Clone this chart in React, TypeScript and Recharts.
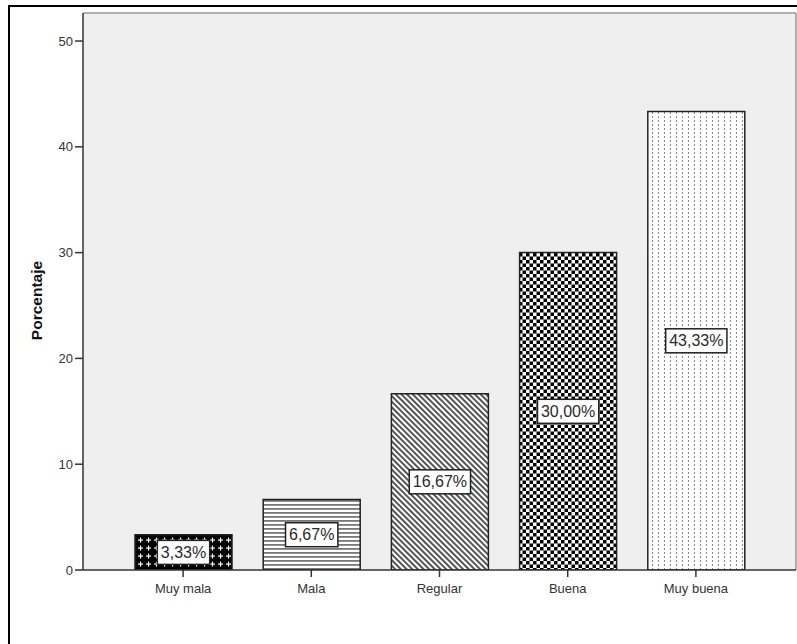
import React from 'react';
import { BarChart, Bar, XAxis, YAxis, CartesianGrid, Cell, LabelList } from 'recharts';

const categories = ['Muy mala', 'Mala', 'Regular', 'Buena', 'Muy buena'];
const percentages = [3.33, 6.67, 16.67, 30.0, 43.33];
const yTicks = [0, 10, 20, 30, 40, 50];
const yAxisTitle = 'Porcentaje';

const patternIds = ['patMuyMala', 'patMala', 'patRegular', 'patBuena', 'patMuyBuena'];

const data = categories.map((name, i) => ({ name, value: percentages[i] }));

const FONT = '"Liberation Sans", Arial, Helvetica, sans-serif';

const charW: Record<string, number> = { ',': 0.278, '%': 0.889, '.': 0.278 };
const textWidth = (s: string, fs: number) =>
  s.split('').reduce((acc, c) => acc + (charW[c] ?? 0.556), 0) * fs;

const fmt = (v: number) => v.toFixed(2).replace('.', ',') + '%';

const BarLabel = (props: any) => {
  const { x, y, width, height, value } = props;
  const cx = Number(x) + Number(width) / 2;
  const cy = Number(y) + Number(height) / 2;
  const txt = fmt(Number(value));
  const fs = 16;
  const w = textWidth(txt, fs) + 7;
  const h = 24;
  return (
    <g>
      <rect x={cx - w / 2} y={cy - h / 2} width={w} height={h} fill="#ffffff" stroke="#222" strokeWidth={1.5} />
      <text x={cx} y={cy} textAnchor="middle" dominantBaseline="central" fontSize={fs} fontFamily={FONT} fill="#2a2a2a">
        {txt}
      </text>
    </g>
  );
};

const YTitle = (props: any) => {
  const vb = props.viewBox || {};
  const cx = Number(vb.x) + 28;
  const cy = Number(vb.y) + Number(vb.height) / 2 + 9;
  return (
    <text
      x={cx}
      y={cy}
      transform={`rotate(-90 ${cx} ${cy})`}
      textAnchor="middle"
      dominantBaseline="central"
      fontSize={15.5}
      fontWeight="bold"
      fontFamily={FONT}
      fill="#111"
    >
      {yAxisTitle}
    </text>
  );
};

export default function App() {
  return (
    <div
      style={{
        position: 'absolute',
        left: 8,
        top: 5,
        width: 789,
        height: 639,
        boxSizing: 'border-box',
        borderTop: '2px solid #000',
        borderLeft: '2px solid #000',
        background: '#fff',
        overflow: 'hidden',
      }}
    >
      <div style={{ position: 'absolute', left: -2, top: 1 }}>
        <BarChart width={789} height={636} data={data} margin={{ top: 5, right: 1, bottom: 44, left: 0 }}>
          <defs>
            <pattern id="patMuyMala" width="8" height="8" patternUnits="userSpaceOnUse">
              <rect x="0" y="0" width="8" height="8" fill="#000" />
              <rect x="2" y="3.5" width="5" height="1.2" fill="#fff" />
              <rect x="3.9" y="1.6" width="1.2" height="5" fill="#fff" />
            </pattern>
            <pattern id="patMala" width="4" height="4" patternUnits="userSpaceOnUse">
              <rect x="0" y="0" width="4" height="4" fill="#fff" />
              <rect x="0" y="0" width="4" height="1.8" fill="#777" />
            </pattern>
            <pattern id="patRegular" width="4" height="4" patternUnits="userSpaceOnUse" patternTransform="rotate(-45)">
              <rect x="0" y="0" width="4" height="4" fill="#fff" />
              <rect x="0" y="0" width="2" height="4" fill="#555" />
            </pattern>
            <pattern id="patBuena" width="7" height="7" patternUnits="userSpaceOnUse">
              <rect x="0" y="0" width="7" height="7" fill="#fff" />
              <rect x="0" y="0" width="3.5" height="3.5" fill="#000" />
              <rect x="3.5" y="3.5" width="3.5" height="3.5" fill="#000" />
            </pattern>
            <pattern id="patMuyBuena" width="6" height="4" patternUnits="userSpaceOnUse">
              <rect x="0" y="0" width="6" height="4" fill="#fff" />
              <rect x="2" y="0" width="1" height="2" fill="#888" />
            </pattern>
          </defs>
          <CartesianGrid
            fill="#efefef"
            stroke="#999"
            strokeWidth={1.5}
            horizontalCoordinatesGenerator={({ offset }: any) => [offset.top]}
            verticalCoordinatesGenerator={({ offset }: any) => [offset.left + offset.width]}
          />
          <XAxis
            dataKey="name"
            type="category"
            interval={0}
            height={30}
            padding={{ left: 36, right: 36 }}
            tickSize={7}
            tickMargin={7}
            axisLine={{ stroke: '#333', strokeWidth: 1.5 }}
            tickLine={{ stroke: '#333', strokeWidth: 1.5 }}
            tick={{ fontSize: 13, fill: '#333', fontFamily: FONT }}
          />
          <YAxis
            type="number"
            domain={[0, 52.65]}
            ticks={yTicks}
            allowDataOverflow
            width={75}
            tickSize={8}
            tickMargin={2}
            axisLine={{ stroke: '#333', strokeWidth: 1.5 }}
            tickLine={{ stroke: '#333', strokeWidth: 1.5 }}
            tick={{ fontSize: 13, fill: '#333', fontFamily: FONT }}
            label={<YTitle />}
          />
          <Bar dataKey="value" barSize={97} stroke="#222" strokeWidth={1.5} isAnimationActive={false}>
            {data.map((d, i) => (
              <Cell key={d.name} fill={`url(#${patternIds[i]})`} />
            ))}
            <LabelList dataKey="value" content={<BarLabel />} />
          </Bar>
        </BarChart>
      </div>
    </div>
  );
}
